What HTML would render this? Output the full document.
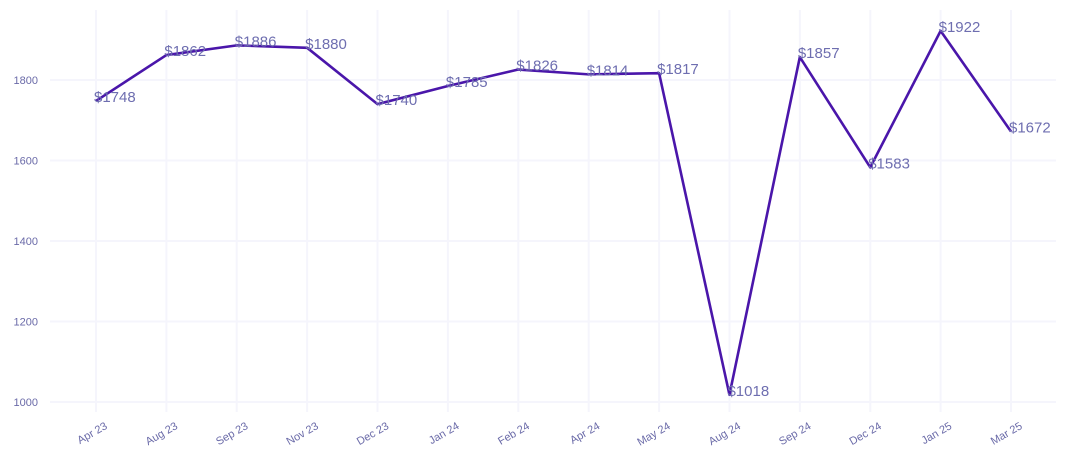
<!DOCTYPE html>
<html><head><meta charset="utf-8"><style>
html,body{margin:0;padding:0;background:#fff;}
svg{display:block;font-family:"Liberation Sans",Arial,sans-serif;}
</style></head><body>
<svg id="chart" width="1070" height="465" viewBox="0 0 1070 465">
<g id="grid"></g>
<g id="yaxis"></g>
<g id="xaxis"></g>
<g id="series"></g>
<g id="labels"></g>
</svg>
<script>
const categories = ["Apr 23","Aug 23","Sep 23","Nov 23","Dec 23","Jan 24","Feb 24","Apr 24","May 24","Aug 24","Sep 24","Dec 24","Jan 25","Mar 25"];
const values = [1748,1862,1886,1880,1740,1785,1826,1814,1817,1018,1857,1583,1922,1672];
const yTicks = [1000,1200,1400,1600,1800];
const NS = "http://www.w3.org/2000/svg";
const x0 = 96, x1 = 1011, yBase = 402, yScale = 322/800;
function xPos(i){ return x0 + i*(x1-x0)/(categories.length-1); }
function yPos(v){ return yBase - (v-1000)*yScale; }
function mk(tag, attrs, parent){ const e=document.createElementNS(NS,tag); for(const k in attrs) e.setAttribute(k,attrs[k]); parent.appendChild(e); return e; }
const grid=document.getElementById('grid'), ya=document.getElementById('yaxis'), xa=document.getElementById('xaxis'), ser=document.getElementById('series'), lab=document.getElementById('labels');
yTicks.forEach(t=>{
  const y=yPos(t);
  const l=mk('line',{x1:50,x2:1056,y1:y,y2:y,stroke:'#f5f5fc','stroke-width':2},grid);
  
  
  const tx=mk('text',{x:38,y:y+4,'text-anchor':'end','font-size':11,fill:'#6a6aa8'},ya);
  tx.textContent=t;
  
  
});
categories.forEach((c,i)=>{
  const x=xPos(i);
  const l=mk('line',{x1:x,x2:x,y1:10,y2:412,stroke:'#f5f5fc','stroke-width':2},grid);
  
  
  const tx=mk('text',{x:x+12,y:428,'text-anchor':'end','font-size':11,fill:'#6a6aa8',transform:'rotate(-30 '+(x+12)+' 428)'},xa);
  tx.textContent=c;
  
  
});
const pts=values.map((v,i)=>xPos(i)+','+yPos(v)).join(' ');
const pl=mk('polyline',{points:pts,fill:'none',stroke:'#4a16aa','stroke-width':2.6,'stroke-linejoin':'round'},ser);


values.forEach((v,i)=>{
  const tx=mk('text',{x:xPos(i)-2,y:yPos(v)+1,'font-size':15,fill:'#6e6eb0'},lab);
  tx.textContent='$'+v;
  
  
});
</script>
</body></html>
